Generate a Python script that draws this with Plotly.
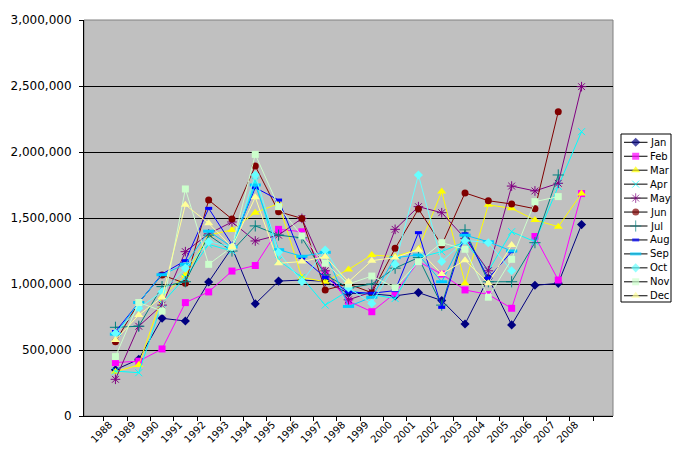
import plotly.graph_objects as go

years = [str(y) for y in range(1988, 2009)]

jan = [350e3, 430e3, 740e3, 720e3, 1015e3, 1275e3, 850e3, 1022e3, 1030e3, 1020e3, 930e3, 925e3, 910e3, 935e3, 875e3, 697e3, 1045e3, 690e3, 990e3, 1005e3, 1450e3]
feb = [405e3, 415e3, 508e3, 859e3, 940e3, 1098e3, 1140e3, 1414e3, 1396e3, 1080e3, 870e3, 790e3, 930e3, 1170e3, 1075e3, 955e3, 920e3, 816e3, 1360e3, 1030e3, 1685e3]
mar = [336e3, 386e3, 904e3, 1068e3, 1370e3, 1410e3, 1540e3, 1610e3, 1050e3, 1017e3, 1110e3, 1220e3, 1207e3, 1265e3, 1700e3, 1005e3, 1600e3, 1573e3, 1485e3, 1434e3, 1685e3]
apr = [340e3, 328e3, 855e3, 1050e3, 1300e3, 1250e3, 1780e3, 1180e3, 1050e3, 840e3, 950e3, 920e3, 890e3, 1200e3, 1245e3, 1320e3, 1100e3, 1396e3, 1320e3, 1740e3, 2154e3]
may = [278e3, 680e3, 840e3, 1245e3, 1380e3, 1470e3, 1326e3, 1370e3, 1497e3, 1100e3, 880e3, 940e3, 1414e3, 1586e3, 1540e3, 1346e3, 1100e3, 1742e3, 1705e3, 1763e3, 2495e3]
jun = [563e3, 860e3, 1068e3, 1005e3, 1636e3, 1492e3, 1894e3, 1548e3, 1497e3, 955e3, 1000e3, 934e3, 1270e3, 1568e3, 1295e3, 1690e3, 1631e3, 1606e3, 1570e3, 2305e3, None]
jul = [672e3, 680e3, 980e3, 1017e3, 1370e3, 1250e3, 1440e3, 1370e3, 1350e3, 1070e3, 970e3, 1000e3, 1120e3, 1200e3, 840e3, 1410e3, 1017e3, 1017e3, 1313e3, 1826e3, None]
aug = [640e3, 860e3, 1076e3, 1177e3, 1573e3, 1300e3, 1730e3, 1636e3, 1200e3, 1050e3, 940e3, 930e3, 950e3, 1389e3, 823e3, 1380e3, 1043e3, 1245e3, None, None, None]
sep = [620e3, 860e3, 1070e3, 1150e3, 1400e3, 1280e3, 1750e3, 1260e3, 1210e3, 1240e3, 830e3, 900e3, 1200e3, 1220e3, 1017e3, 1370e3, 1320e3, 1250e3, None, None, None]
oct_ = [626e3, 816e3, 942e3, 1120e3, 1320e3, 1280e3, 1826e3, 1240e3, 1017e3, 1258e3, 970e3, 853e3, 1150e3, 1826e3, 1170e3, 1330e3, 1313e3, 1100e3, None, None, None]
nov = [450e3, 860e3, 795e3, 1720e3, 1149e3, 1280e3, 1982e3, 1586e3, 1364e3, 1157e3, 1000e3, 1060e3, 972e3, 1169e3, 1313e3, 1263e3, 900e3, 1187e3, 1624e3, 1662e3, None]
dec = [576e3, 765e3, 900e3, 1600e3, 1460e3, 1280e3, 1657e3, 1157e3, 1170e3, 1207e3, 1017e3, 1177e3, 1200e3, 1260e3, 1076e3, 1180e3, 1005e3, 1295e3, None, None, None]

series = [
    ("Jan", jan, "#000080", "diamond", 7, None),
    ("Feb", feb, "#FF00FF", "square", 7, None),
    ("Mar", mar, "#FFFF00", "triangle-up", 8, None),
    ("Apr", apr, "#00FFFF", "x-thin-open", 7, 1),
    ("May", may, "#800080", "asterisk-open", 8, 1),
    ("Jun", jun, "#800000", "circle", 7, None),
    ("Jul", jul, "#008080", "cross-thin-open", 8, 1),
    ("Aug", aug, "#0000FF", "line-ew-open", 5, 3),
    ("Sep", sep, "#00CCFF", "line-ew-open", 8, 3),
    ("Oct", oct_, "#66FFFF", "diamond", 7, None),
    ("Nov", nov, "#CCFFCC", "square", 7, None),
    ("Dec", dec, "#FFFF99", "triangle-up", 8, None),
]

W, H = 683, 467
# page body adds an 8px offset; plot area in figure px
px0, px1, py0, py1 = 76, 605, 12, 408
# legend box in figure px
lx0, lx1, ly0, ly1 = 613, 663, 126, 294
row0, row_gap = 8.3, 13.95

fig = go.Figure()
for i, (name, vals, color, sym, size, lw) in enumerate(series):
    marker = dict(symbol=sym, size=size, color=color)
    if lw is not None:
        marker["line"] = dict(color=color, width=lw)
    else:
        marker["line"] = dict(width=0)
    fig.add_trace(go.Scatter(
        x=years, y=vals, name=name, mode="lines+markers",
        line=dict(color=color, width=1), marker=marker,
        connectgaps=False, showlegend=False,
    ))
    # legend key: black line sample with the series marker in the middle
    ry = row0 + i * row_gap
    fig.add_trace(go.Scatter(
        x=[3, 14.7, 26.5], y=[ry, ry, ry], mode="lines+markers",
        xaxis="x2", yaxis="y2", showlegend=False, hoverinfo="skip",
        line=dict(color="black", width=1),
        marker=dict(symbol=sym, size=[0, size, 0], color=color,
                    line=marker["line"]),
    ))
    fig.add_annotation(x=27, y=ry, xref="x2", yref="y2", text=name,
                       showarrow=False, xanchor="left", yanchor="middle",
                       font=dict(family="DejaVu Sans", size=10, color="black"))

fig.update_layout(
    template="none",
    width=W, height=H,
    margin=dict(l=0, r=0, t=0, b=0, pad=0),
    paper_bgcolor="white",
    plot_bgcolor="#C0C0C0",
    font=dict(family="DejaVu Sans", size=11, color="black"),
    showlegend=False,
    xaxis=dict(
        domain=[px0 / W, px1 / W],
        type="category", tickangle=-45, showgrid=False,
        ticks="outside", tickson="boundaries", ticklen=4, tickcolor="black",
        showline=True, linecolor="black", linewidth=1, mirror=False,
        tickfont=dict(family="DejaVu Sans", size=10),
        ticklabelshift=-6, ticklabelstandoff=-2,
        automargin=False,
    ),
    yaxis=dict(
        domain=[1 - py1 / H, 1 - py0 / H],
        range=[0, 3000000], dtick=500000, tickformat=",d",
        showgrid=True, gridcolor="black", gridwidth=1,
        ticks="outside", ticklen=4, tickcolor="black",
        showline=True, linecolor="black", linewidth=1,
        zeroline=False, automargin=False, ticklabelstandoff=5,
        tickfont=dict(family="DejaVu Sans", size=12),
    ),
    xaxis2=dict(domain=[lx0 / W, lx1 / W], range=[0, lx1 - lx0], visible=False,
                fixedrange=True, anchor="y2"),
    yaxis2=dict(domain=[1 - ly1 / H, 1 - ly0 / H], range=[ly1 - ly0, 0], visible=False,
                fixedrange=True, anchor="x2"),
)
fig.add_shape(type="rect", xref="x domain", yref="y domain", x0=0, y0=0, x1=1, y1=1,
              line=dict(color="#808080", width=1), layer="below")
fig.add_shape(type="rect", xref="x2 domain", yref="y2 domain", x0=0, y0=0, x1=1, y1=1,
              line=dict(color="black", width=1), fillcolor="white", layer="below")

fig.write_html("out.html")
